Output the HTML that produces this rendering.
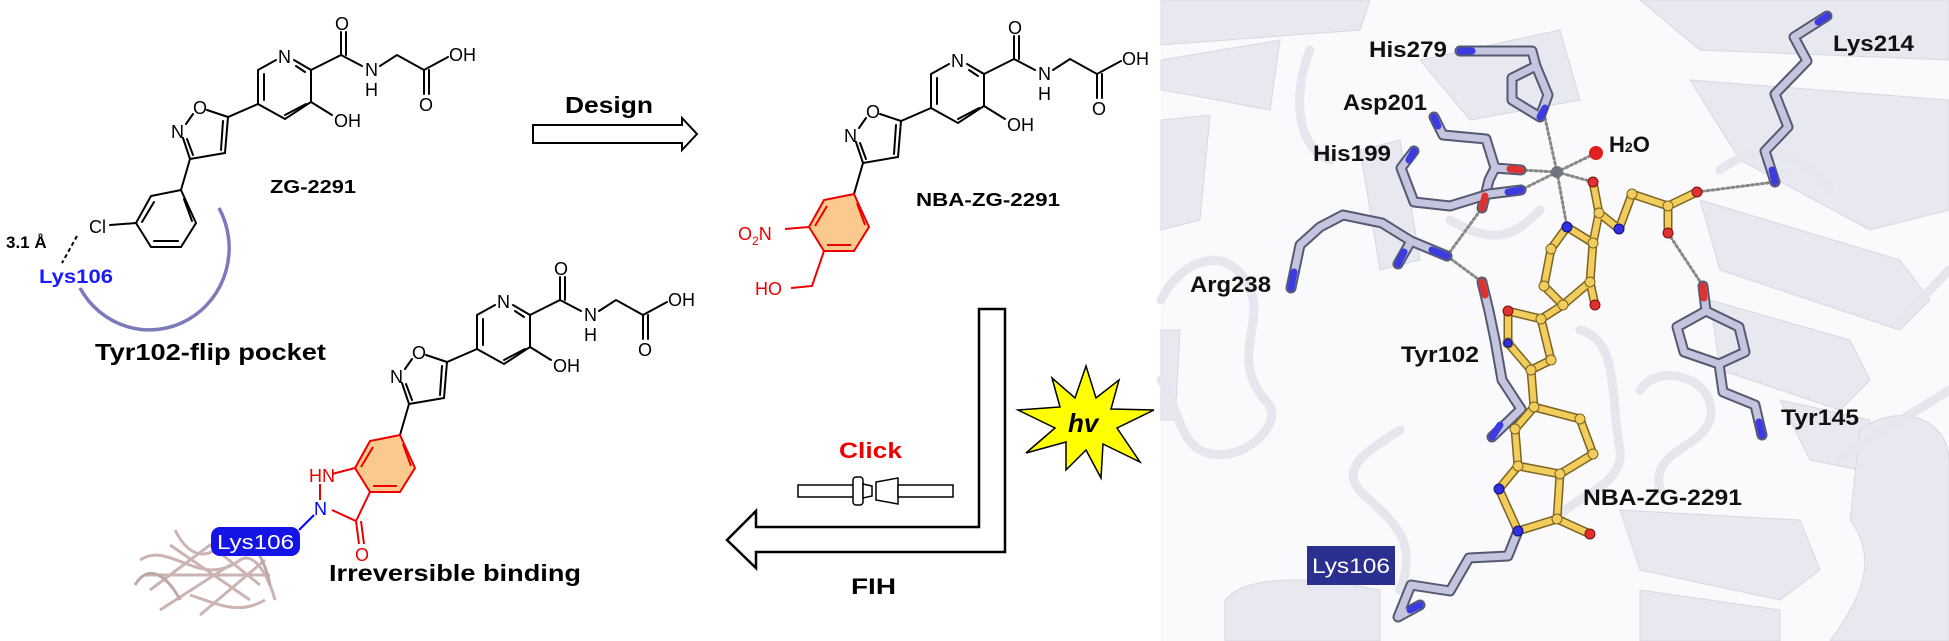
<!DOCTYPE html>
<html><head><meta charset="utf-8"><style>
html,body{margin:0;padding:0;background:#fff}
svg{display:block}
text{font-family:"Liberation Sans",Arial,sans-serif}
.b{stroke:#000;stroke-width:2;fill:none;stroke-linecap:round}
.r{stroke:#e00;stroke-width:2;fill:none}
.at{font-size:18px;fill:#000}
.lb{font-size:22px;font-weight:bold;fill:#111}
.res{fill:none;stroke:#555a70;stroke-width:11;stroke-linecap:round;stroke-linejoin:round}
.res2{fill:none;stroke:#c3c6de;stroke-width:7;stroke-linecap:round;stroke-linejoin:round}
.lig{fill:none;stroke:#7a6420;stroke-width:9;stroke-linecap:round;stroke-linejoin:round}
.lig2{fill:none;stroke:#f2cc5c;stroke-width:6;stroke-linecap:round;stroke-linejoin:round}
.dot{stroke:#888;stroke-width:3;stroke-dasharray:2 3;fill:none;stroke-linecap:round}
.rib{fill:#e8e8f0;stroke:#d8d8e4;stroke-width:1}
.tube{fill:none;stroke:#e6e6ef;stroke-width:9;stroke-linecap:round}
</style></head><body>
<svg width="1949" height="641" viewBox="0 0 1949 641" xmlns="http://www.w3.org/2000/svg">
<defs>
<g id="core">
 <!-- pyridine -->
 <path class="b" d="M258,70 L276,60 M294,60 L311,70 L311,102 L285,119 L258,104 L258,70"/>
 <path class="b" d="M264,74 L264,100 M296,66 L305,72 M306,104 L285,115"/>
 <text class="at" x="278" y="63">N</text>
 <!-- amide -->
 <path class="b" d="M311,70 L341,55 L362,66 M341,55 L341,32 M346,55 L346,32 M380,66 L397,55 L424,70 L448,57 M424,70 L424,94 M429,70 L429,94 M311,102 L332,115"/>
 <text class="at" x="335" y="30">O</text>
 <text class="at" x="365" y="76">N</text>
 <text class="at" x="365" y="96">H</text>
 <text class="at" x="449" y="61">OH</text>
 <text class="at" x="419" y="111">O</text>
 <text class="at" x="334" y="127">OH</text>
 <!-- isoxazole -->
 <path class="b" d="M258,104 L228,117 L207,110 M193,114 L186,124 M183,138 L190,159 L225,153 L228,117 M187,139 L193,155 M221,150 L223,121"/>
 <text class="at" x="193" y="114">O</text>
 <text class="at" x="171" y="138">N</text>
 <path class="b" d="M190,159 L181,190"/>
</g>
</defs>

<!-- ===== Molecule 1: ZG-2291 ===== -->
<use href="#core"/>
<path class="b" d="M181,190 L196,223 L181,247 L151,247 L136,223 L151,196 Z M184,199 L192,221 M178,241 L154,241 M142,222 L154,202"/>
<path class="b" d="M136,223 L110,225"/>
<text class="at" x="89" y="233">Cl</text>
<path d="M77,236 L62,263" stroke="#000" stroke-width="2" stroke-dasharray="4 3"/>
<text x="6" y="248" font-size="17" font-weight="bold">3.1 Å</text>
<text x="39" y="283" font-size="19" font-weight="bold" fill="#1a1aff" textLength="74" lengthAdjust="spacingAndGlyphs">Lys106</text>
<path d="M219,208 A72,74 0 1 1 80,288" fill="none" stroke="#7b7bbb" stroke-width="3.5"/>
<text x="270" y="193" font-size="18" font-weight="bold" textLength="86" lengthAdjust="spacingAndGlyphs">ZG-2291</text>
<text x="95" y="360" font-size="23" font-weight="bold" textLength="231" lengthAdjust="spacingAndGlyphs">Tyr102-flip pocket</text>

<!-- Design arrow -->
<text x="565" y="113" font-size="23" font-weight="bold" textLength="88" lengthAdjust="spacingAndGlyphs">Design</text>
<path d="M533,125 L682,125 L682,118 L697,134 L682,150 L682,143 L533,143 Z" fill="#fff" stroke="#000" stroke-width="2"/>

<!-- ===== Molecule 2: NBA-ZG-2291 ===== -->
<g transform="translate(673,4)">
 <use href="#core"/>
 <path d="M181,190 L196,223 L181,247 L151,247 L136,223 L151,196 Z" fill="#f9c98e" stroke="#e00" stroke-width="2"/>
 <path class="r" d="M184,199 L192,221 M178,241 L154,241 M142,222 L154,202"/>
 <path class="r" d="M136,223 L112,225 M151,247 L139,282 L118,284"/>
 <text x="65" y="236" font-size="18" fill="#e00">O<tspan font-size="12" dy="5">2</tspan><tspan dy="-5">N</tspan></text>
 <text x="82" y="291" font-size="18" fill="#e00">HO</text>
</g>
<text x="916" y="206" font-size="18" font-weight="bold" textLength="144" lengthAdjust="spacingAndGlyphs">NBA-ZG-2291</text>

<!-- ===== Molecule 3: irreversible ===== -->
<g transform="translate(219,245)">
 <use href="#core"/>
 <path d="M181,190 L196,223 L181,247 L151,247 L136,223 L151,196 Z" fill="#f9c98e" stroke="#e00" stroke-width="2"/>
 <path class="r" d="M184,199 L192,221 M178,241 L154,241 M142,222 L154,202"/>
 <path class="r" d="M136,223 L113,229 M101,239 L101,255 M113,265 L137,276 L151,247 M137,276 L140,299 M142,276 L145,299"/>
 <text x="90" y="237" font-size="18" fill="#e00">HN</text>
 <text x="136" y="316" font-size="18" fill="#e00">O</text>
 <text x="95" y="270" font-size="18" fill="#00f">N</text>
 <path d="M95,270 L80,285" stroke="#00f" stroke-width="2"/>
</g>
<!-- mini protein -->
<g opacity="0.85">
 <path d="M140,560 C170,540 200,590 240,560 C255,550 270,580 275,600 M150,590 L210,545 L260,585 M160,610 L230,565 M175,530 C190,560 210,560 225,540 M200,615 L265,560 M145,575 L270,575 M170,545 L250,600 M190,595 C220,605 240,615 265,600" stroke="#c3a7a5" stroke-width="3" fill="none"/>
 <path d="M135,585 C150,560 170,580 180,600 M240,530 C255,545 265,560 270,585" stroke="#b59a98" stroke-width="3" fill="none"/>
</g>
<rect x="211" y="527" width="89" height="29" rx="9" fill="#1414e6"/>
<text x="217" y="549" font-size="20" fill="#fff" textLength="77" lengthAdjust="spacingAndGlyphs">Lys106</text>
<text x="329" y="581" font-size="23" font-weight="bold" textLength="252" lengthAdjust="spacingAndGlyphs">Irreversible binding</text>

<!-- FIH bent arrow -->
<path d="M979,309 L1005,309 L1005,552 L756,552 L756,568 L727,540 L756,511 L756,527 L979,527 Z" fill="#fff" stroke="#000" stroke-width="2.5"/>
<text x="839" y="458" font-size="22" font-weight="bold" fill="#e00" textLength="63" lengthAdjust="spacingAndGlyphs">Click</text>
<!-- click connector -->
<rect x="798" y="485" width="56" height="12" fill="#fff" stroke="#000" stroke-width="1.5"/>
<rect x="853" y="477" width="10" height="28" rx="3" fill="#fff" stroke="#000" stroke-width="1.5"/>
<path d="M863,484 L872,486 L872,496 L863,498 Z" fill="#fff" stroke="#000" stroke-width="1.5"/>
<path d="M876,482 L898,478 L898,504 L876,500 Z" fill="#fff" stroke="#000" stroke-width="1.5"/>
<rect x="898" y="485" width="55" height="12" fill="#fff" stroke="#000" stroke-width="1.5"/>
<text x="851" y="594" font-size="22" font-weight="bold" textLength="45" lengthAdjust="spacingAndGlyphs">FIH</text>

<!-- hv star -->
<polygon points="1086,366 1096,398 1119,380 1111,409 1154,410 1117,428 1140,462 1103,444 1101,478 1086,450 1066,470 1066,442 1026,453 1055,428 1018,410 1060,407 1052,378 1075,398" fill="#ffff00" stroke="#000" stroke-width="1.5"/>
<text x="1068" y="432" font-size="26" font-weight="bold" font-style="italic">hv</text>

<!-- ===== Protein panel ===== -->
<rect x="1161" y="0" width="788" height="641" fill="#fafafc"/>
<g>
 <path class="rib" d="M1161,0 L1370,0 L1360,30 L1161,45 Z"/>
 <path class="rib" d="M1161,60 L1280,40 L1270,110 L1190,95 L1161,90 Z"/>
 <path class="rib" d="M1161,120 L1210,115 L1200,220 L1161,230 Z"/>
 <path class="rib" d="M1161,330 L1180,330 L1175,420 L1161,420 Z"/>
 <path class="rib" d="M1640,0 L1949,0 L1949,60 L1700,50 Z"/>
 <path class="rib" d="M1690,80 L1949,100 L1949,210 L1870,230 L1740,160 Z"/>
 <path class="rib" d="M1700,200 L1900,260 L1930,300 L1900,330 L1720,270 Z"/>
 <path class="rib" d="M1710,300 L1850,340 L1870,380 L1840,410 L1720,370 Z"/>
 <path class="rib" d="M1780,400 L1870,420 L1860,470 L1810,460 Z"/>
 <path class="rib" d="M1620,510 L1800,520 L1820,570 L1780,600 L1640,570 Z"/>
 <path class="rib" d="M1640,590 L1780,610 L1780,641 L1640,641 Z"/>
 <path class="rib" d="M1860,430 C1900,400 1949,420 1949,460 L1949,641 L1830,641 C1860,600 1880,560 1850,520 Z"/>
 <path class="rib" d="M1225,600 C1250,570 1330,580 1380,590 L1380,641 L1225,641 Z"/>
 <path class="rib" d="M1420,60 L1560,30 L1580,100 L1470,120 Z"/>
 <path class="rib" d="M1360,150 L1400,140 L1420,260 L1380,270 Z"/>
 <path class="tube" d="M1161,300 C1180,260 1230,240 1250,290 C1265,320 1230,360 1265,400 C1290,420 1240,470 1200,450 C1180,440 1175,400 1161,380"/>
 <path class="tube" d="M1310,50 C1290,100 1300,150 1330,160"/>
 <path class="tube" d="M1400,430 C1370,450 1330,470 1370,500 C1390,520 1420,540 1400,590"/>
 <path class="tube" d="M1580,330 C1620,340 1610,400 1620,450 C1625,490 1560,500 1560,520"/>
 <path class="tube" d="M1640,390 C1660,360 1720,380 1710,420 C1700,450 1650,450 1660,490"/>
 <path class="tube" d="M1450,220 C1500,250 1520,230 1540,210"/>
 <path class="tube" d="M1720,170 C1760,140 1800,150 1830,190"/>
 <path class="tube" d="M1840,460 C1880,430 1920,410 1949,390"/>
 <path class="tube" d="M1900,320 C1920,300 1940,280 1949,270"/>
</g>
<!-- dotted interactions -->
<g class="dot">
 <path d="M1545,118 L1557,172"/>
 <path d="M1557,172 L1596,153"/>
 <path d="M1557,172 L1521,170"/>
 <path d="M1557,172 L1521,190"/>
 <path d="M1557,172 L1567,227"/>
 <path d="M1557,172 L1593,182"/>
 <path d="M1447,256 L1482,208"/>
 <path d="M1447,256 L1482,282"/>
 <path d="M1697,192 L1775,182"/>
 <path d="M1668,233 L1703,286"/>
</g>
<!-- residues -->
<g>
 <path class="res" d="M1460,51 L1532,51 L1536,66 L1512,78 L1512,100 L1540,117 L1548,95 L1536,66"/>
 <path class="res2" d="M1460,51 L1532,51 L1536,66 L1512,78 L1512,100 L1540,117 L1548,95 L1536,66"/>
 <path class="res" d="M1827,16 L1794,37 L1807,61 L1775,94 L1788,127 L1765,151 L1775,182"/>
 <path class="res2" d="M1827,16 L1794,37 L1807,61 L1775,94 L1788,127 L1765,151 L1775,182"/>
 <path class="res" d="M1434,117 L1443,135 L1486,139 L1495,168 L1521,170 M1495,168 L1489,180 L1482,208"/>
 <path class="res2" d="M1434,117 L1443,135 L1486,139 L1495,168 L1521,170 M1495,168 L1489,180 L1482,208"/>
 <path class="res" d="M1414,151 L1401,168 L1414,202 L1450,206 L1489,194 L1521,190"/>
 <path class="res2" d="M1414,151 L1401,168 L1414,202 L1450,206 L1489,194 L1521,190"/>
 <path class="res" d="M1291,288 L1300,245 L1320,227 L1343,215 L1382,223 L1411,241 L1447,256 M1411,241 L1398,264"/>
 <path class="res2" d="M1291,288 L1300,245 L1320,227 L1343,215 L1382,223 L1411,241 L1447,256 M1411,241 L1398,264"/>
 <path class="res" d="M1482,282 L1489,311 L1495,340 L1502,380 L1521,409 L1492,437"/>
 <path class="res2" d="M1482,282 L1489,311 L1495,340 L1502,380 L1521,409 L1492,437"/>
 <path class="res" d="M1703,286 L1706,311 L1677,327 L1684,352 L1719,364 L1745,352 L1739,327 L1706,311 M1719,364 L1723,392 L1755,405 L1762,435"/>
 <path class="res2" d="M1703,286 L1706,311 L1677,327 L1684,352 L1719,364 L1745,352 L1739,327 L1706,311 M1719,364 L1723,392 L1755,405 L1762,435"/>
 <path class="res" d="M1518,531 L1508,556 L1469,558 L1450,591 L1411,585 L1398,617 L1420,605"/>
 <path class="res2" d="M1518,531 L1508,556 L1469,558 L1450,591 L1411,585 L1398,617 L1420,605"/>
</g>
<!-- atom color ends -->
<g stroke-width="7" stroke-linecap="round">
 <path d="M1460,51 L1472,51" stroke="#3b3be0"/>
 <path d="M1540,117 L1545,108" stroke="#3b3be0"/>
 <path d="M1775,182 L1772,170" stroke="#3b3be0"/>
 <path d="M1827,16 L1818,22" stroke="#3b3be0"/>
 <path d="M1434,117 L1438,126" stroke="#3b3be0"/>
 <path d="M1414,151 L1409,160" stroke="#3b3be0"/>
 <path d="M1521,170 L1510,169" stroke="#e03030"/>
 <path d="M1482,208 L1485,196" stroke="#e03030"/>
 <path d="M1521,190 L1508,192" stroke="#3b3be0"/>
 <path d="M1291,288 L1294,272" stroke="#3b3be0"/>
 <path d="M1447,256 L1432,250" stroke="#3b3be0"/>
 <path d="M1398,264 L1404,252" stroke="#3b3be0"/>
 <path d="M1482,282 L1485,295" stroke="#e03030"/>
 <path d="M1703,286 L1704,298" stroke="#e03030"/>
 <path d="M1762,435 L1759,422" stroke="#3b3be0"/>
 <path d="M1492,437 L1500,425" stroke="#3b3be0"/>
 <path d="M1420,605 L1410,610" stroke="#3b3be0"/>
</g>
<!-- ligand -->
<g>
 <path class="lig" d="M1593,182 L1599,213 L1619,229 L1632,194 L1668,206 L1697,192 M1668,206 L1668,233 M1599,213 L1593,243 L1567,227 L1551,249 L1544,286 L1563,305 L1590,282 L1593,243 M1590,282 L1595,305 M1563,305 L1541,319 L1508,311 L1508,343 L1531,370 L1551,360 L1541,319 M1531,370 L1534,407 L1580,419 L1593,454 L1560,474 L1518,466 L1515,429 L1534,407 M1518,466 L1499,489 L1518,531 L1557,519 L1560,474 M1557,519 L1590,534"/>
 <path class="lig2" d="M1593,182 L1599,213 L1619,229 L1632,194 L1668,206 L1697,192 M1668,206 L1668,233 M1599,213 L1593,243 L1567,227 L1551,249 L1544,286 L1563,305 L1590,282 L1593,243 M1590,282 L1595,305 M1563,305 L1541,319 L1508,311 L1508,343 L1531,370 L1551,360 L1541,319 M1531,370 L1534,407 L1580,419 L1593,454 L1560,474 L1518,466 L1515,429 L1534,407 M1518,466 L1499,489 L1518,531 L1557,519 L1560,474 M1557,519 L1590,534"/>
 <g fill="#f2cc5c" stroke="#7a6420" stroke-width="1">
  <circle cx="1599" cy="213" r="5"/><circle cx="1632" cy="194" r="5"/><circle cx="1668" cy="206" r="5"/>
  <circle cx="1593" cy="243" r="5"/><circle cx="1551" cy="249" r="5"/><circle cx="1544" cy="286" r="5"/><circle cx="1563" cy="305" r="5"/><circle cx="1590" cy="282" r="5"/>
  <circle cx="1508" cy="343" r="5"/><circle cx="1531" cy="370" r="5"/><circle cx="1551" cy="360" r="5"/><circle cx="1541" cy="319" r="5"/>
  <circle cx="1534" cy="407" r="5"/><circle cx="1580" cy="419" r="5"/><circle cx="1593" cy="454" r="5"/><circle cx="1560" cy="474" r="5"/><circle cx="1518" cy="466" r="5"/><circle cx="1515" cy="429" r="5"/><circle cx="1557" cy="519" r="5"/>
 </g>
 <g fill="#e03030" stroke="#7a1010" stroke-width="1">
  <circle cx="1593" cy="182" r="5"/><circle cx="1697" cy="192" r="5"/><circle cx="1668" cy="233" r="5"/><circle cx="1595" cy="305" r="5"/><circle cx="1508" cy="311" r="5"/><circle cx="1590" cy="534" r="5"/>
 </g>
 <g fill="#3030e0" stroke="#10107a" stroke-width="1">
  <circle cx="1567" cy="227" r="5"/><circle cx="1619" cy="229" r="5"/><circle cx="1499" cy="489" r="5"/><circle cx="1518" cy="531" r="5"/><circle cx="1508" cy="343" r="4"/>
 </g>
</g>
<circle cx="1557" cy="172" r="6" fill="#707380"/>
<circle cx="1596" cy="153" r="7" fill="#e02020"/>
<!-- labels -->
<text class="lb" x="1369" y="57" textLength="78" lengthAdjust="spacingAndGlyphs">His279</text>
<text class="lb" x="1833" y="51" textLength="81" lengthAdjust="spacingAndGlyphs">Lys214</text>
<text class="lb" x="1343" y="110" textLength="84" lengthAdjust="spacingAndGlyphs">Asp201</text>
<text class="lb" x="1609" y="152">H<tspan font-size="14">2</tspan>O</text>
<text class="lb" x="1313" y="161" textLength="78" lengthAdjust="spacingAndGlyphs">His199</text>
<text class="lb" x="1190" y="292" textLength="81" lengthAdjust="spacingAndGlyphs">Arg238</text>
<text class="lb" x="1401" y="362" textLength="78" lengthAdjust="spacingAndGlyphs">Tyr102</text>
<text class="lb" x="1781" y="425" textLength="78" lengthAdjust="spacingAndGlyphs">Tyr145</text>
<text class="lb" x="1583" y="505" textLength="159" lengthAdjust="spacingAndGlyphs">NBA-ZG-2291</text>
<rect x="1307" y="546" width="88" height="39" fill="#2b2f8f"/>
<text x="1312" y="573" font-size="21" fill="#fff" textLength="78" lengthAdjust="spacingAndGlyphs">Lys106</text>
</svg>
</body></html>
